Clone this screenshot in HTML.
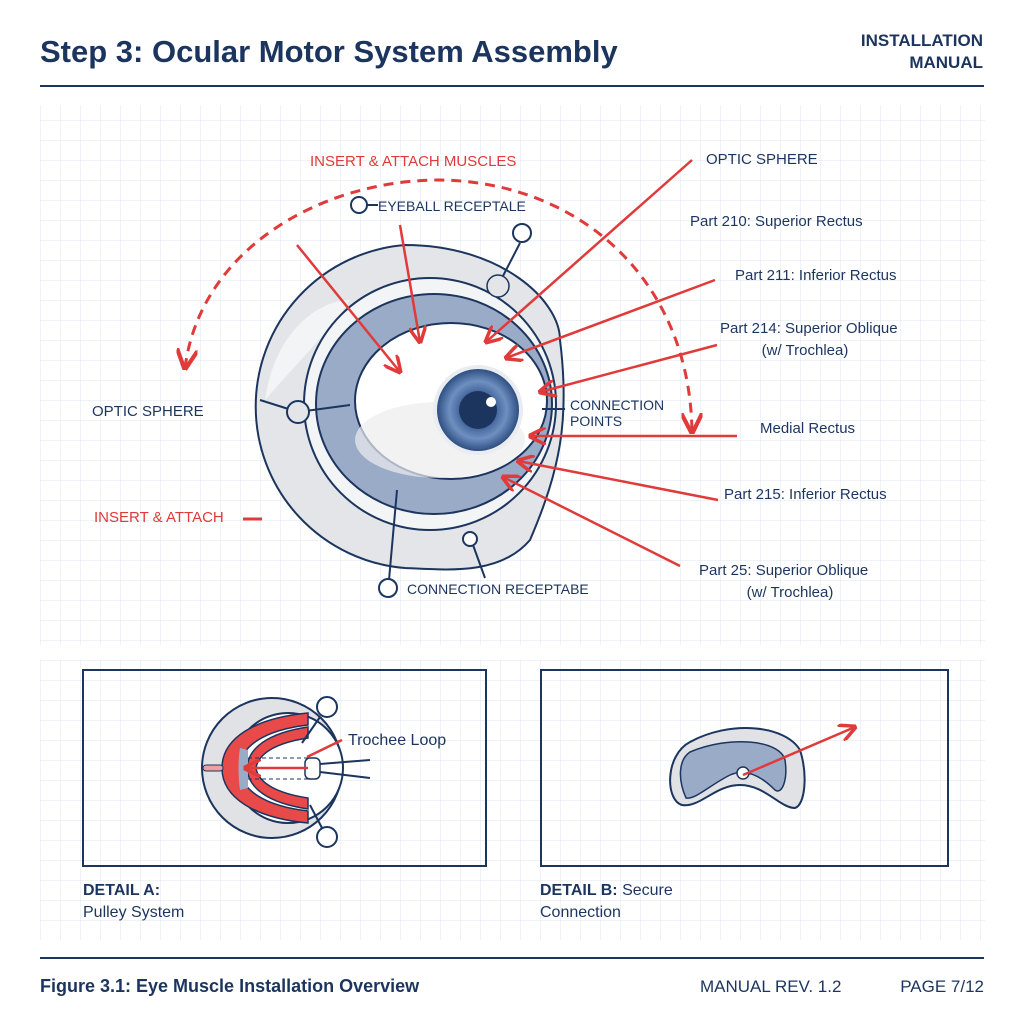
<!DOCTYPE html>
<html><head><meta charset="utf-8"><style>
body{margin:0;background:#fff}
svg{display:block}
text{font-family:"Liberation Sans",Arial,sans-serif}
</style></head><body>
<svg width="1024" height="1024" viewBox="0 0 1024 1024" xmlns="http://www.w3.org/2000/svg">
<defs>
<pattern id="g" width="20" height="20" patternUnits="userSpaceOnUse">
<path d="M20 0H0V20" fill="none" stroke="#dfe4ec" stroke-width="1"/>
</pattern>
<radialGradient id="iris" cx="50%" cy="50%" r="50%">
<stop offset="0.3" stop-color="#2d4f86"/><stop offset="0.7" stop-color="#6e8fc0"/><stop offset="1" stop-color="#2f4f82"/>
</radialGradient>
<marker id="ah" viewBox="0 0 10 10" refX="9" refY="5" markerWidth="7" markerHeight="7" orient="auto-start-reverse">
<path d="M0 0L10 5L0 10" fill="none" stroke="#e03a3a" stroke-width="2"/>
</marker>
</defs>
<rect x="40" y="105" width="945" height="540" fill="url(#g)"/>
<rect x="40" y="660" width="945" height="280" fill="url(#g)"/>
<text x="40" y="62" font-size="31" font-weight="bold" fill="#1c355e">Step 3: Ocular Motor System Assembly</text>
<text x="983" y="46" font-size="17" font-weight="bold" fill="#1c355e" text-anchor="end">INSTALLATION</text>
<text x="983" y="68" font-size="17" font-weight="bold" fill="#1c355e" text-anchor="end">MANUAL</text>
<line x1="40" y1="86" x2="984" y2="86" stroke="#1c355e" stroke-width="2"/>

<path d="M185 368 C200 250 320 180 440 180 C580 182 690 280 692 432" fill="none" stroke="#e03a3a" stroke-width="3" stroke-dasharray="10 7" marker-start="url(#ah)" marker-end="url(#ah)"/>
<text x="310" y="166" font-size="15" fill="#e03a3a">INSERT &amp; ATTACH MUSCLES</text>

<path d="M405 245 C500 245 560 300 560 340 C570 420 560 470 530 540 C500 575 450 570 405 568 A162 162 0 0 1 405 245Z" fill="#e3e5e9" stroke="#1c355e" stroke-width="2"/>
<path d="M265 400 C275 330 320 300 350 300 C330 330 300 360 265 400Z" fill="#f3f4f6"/>
<circle cx="430" cy="404" r="126" fill="#f3f4f6" stroke="#1c355e" stroke-width="2"/>
<ellipse cx="434" cy="404" rx="118" ry="110" fill="#9aabc8" stroke="#1c355e" stroke-width="2"/>
<ellipse cx="451" cy="401" rx="96" ry="78" fill="#fff" stroke="#1c355e" stroke-width="2"/>
<ellipse cx="440" cy="440" rx="85" ry="38" fill="#ececee" opacity="0.7"/>
<circle cx="478" cy="410" r="45" fill="#e9ecf0"/>
<circle cx="478" cy="410" r="41" fill="url(#iris)"/>
<circle cx="478" cy="410" r="19" fill="#1c355e"/>
<circle cx="491" cy="402" r="5" fill="#fff"/>
<line x1="260" y1="400" x2="298" y2="412" stroke="#1c355e" stroke-width="2"/>
<line x1="298" y1="412" x2="350" y2="405" stroke="#1c355e" stroke-width="2"/>
<circle cx="298" cy="412" r="11" fill="#e3e5e9" stroke="#1c355e" stroke-width="2"/>
<circle cx="498" cy="286" r="11" fill="#e3e5e9" stroke="#1c355e" stroke-width="1.5"/>
<line x1="503" y1="276" x2="520" y2="243" stroke="#1c355e" stroke-width="2"/>
<circle cx="522" cy="233" r="9" fill="#fff" stroke="#1c355e" stroke-width="2"/>
<circle cx="470" cy="539" r="7" fill="#fff" stroke="#1c355e" stroke-width="2"/>
<line x1="473" y1="545" x2="485" y2="578" stroke="#1c355e" stroke-width="2"/>
<line x1="397" y1="490" x2="389" y2="580" stroke="#1c355e" stroke-width="2"/>
<circle cx="388" cy="588" r="9" fill="#fff" stroke="#1c355e" stroke-width="2"/>
<line x1="542" y1="409" x2="565" y2="409" stroke="#1c355e" stroke-width="2"/>
<circle cx="359" cy="205" r="8" fill="#fff" stroke="#1c355e" stroke-width="2"/>
<line x1="367" y1="205" x2="378" y2="205" stroke="#1c355e" stroke-width="2"/>

<g stroke="#e03a3a" stroke-width="2.5" fill="none" marker-end="url(#ah)">
<line x1="297" y1="245" x2="400" y2="372"/>
<line x1="400" y1="225" x2="420" y2="342"/>
<line x1="692" y1="160" x2="486" y2="342"/>
<line x1="715" y1="280" x2="506" y2="358"/>
<line x1="717" y1="345" x2="540" y2="392"/>
<line x1="737" y1="436" x2="530" y2="436"/>
<line x1="718" y1="500" x2="518" y2="461"/>
<line x1="680" y1="566" x2="503" y2="477"/>
</g>
<line x1="243" y1="519" x2="262" y2="519" stroke="#e03a3a" stroke-width="3"/>

<g font-size="15" fill="#1c355e">
<text x="378" y="211" font-size="14">EYEBALL RECEPTALE</text>
<text x="706" y="164">OPTIC SPHERE</text>
<text x="690" y="226">Part 210: Superior Rectus</text>
<text x="735" y="280">Part 211: Inferior Rectus</text>
<text x="720" y="333">Part 214: Superior Oblique</text>
<text x="805" y="355" text-anchor="middle">(w/ Trochlea)</text>
<text x="570" y="410" font-size="14">CONNECTION</text>
<text x="570" y="426" font-size="14">POINTS</text>
<text x="760" y="433">Medial Rectus</text>
<text x="724" y="499">Part 215: Inferior Rectus</text>
<text x="699" y="575">Part 25: Superior Oblique</text>
<text x="790" y="597" text-anchor="middle">(w/ Trochlea)</text>
<text x="92" y="416">OPTIC SPHERE</text>
<text x="407" y="594" font-size="14">CONNECTION RECEPTABE</text>
</g>
<text x="94" y="522" font-size="15" fill="#e03a3a">INSERT &amp; ATTACH</text>

<rect x="83" y="670" width="403" height="196" fill="none" stroke="#1c355e" stroke-width="2"/>
<rect x="541" y="670" width="407" height="196" fill="none" stroke="#1c355e" stroke-width="2"/>
<!-- detail A -->
<circle cx="272" cy="768" r="70" fill="#e0e2e6" stroke="#1c355e" stroke-width="2"/>
<circle cx="288" cy="768" r="55" fill="#fff" stroke="#1c355e" stroke-width="2"/>
<path d="M308 713 C255 718 222 738 222 768 C222 798 255 818 308 823 L308 811 C265 806 240 790 240 768 C240 746 265 730 308 725Z" fill="#e84a4a" stroke="#1c355e" stroke-width="1.5"/>
<path d="M308 727 C268 733 248 748 247 768 C248 788 268 803 308 809 L308 798 C275 793 258 782 256 768 C258 754 275 743 308 738Z" fill="#e84a4a" stroke="#1c355e" stroke-width="1.5"/>
<path d="M240 748 C238 760 238 776 240 790 L248 788 L248 750Z" fill="#9aabc8"/>
<rect x="203" y="765" width="20" height="6" rx="3" fill="#f0a0a0" stroke="#1c355e" stroke-width="1"/>
<line x1="248" y1="758" x2="310" y2="758" stroke="#1c355e" stroke-dasharray="4 3"/>
<line x1="248" y1="779" x2="310" y2="779" stroke="#1c355e" stroke-dasharray="4 3"/>
<rect x="305" y="758" width="15" height="21" rx="5" fill="#fff" stroke="#1c355e" stroke-width="1.5"/>
<line x1="308" y1="768" x2="245" y2="768" stroke="#e03a3a" stroke-width="2.5" marker-end="url(#ah)"/>
<line x1="320" y1="764" x2="370" y2="760" stroke="#1c355e" stroke-width="2"/>
<line x1="320" y1="772" x2="370" y2="778" stroke="#1c355e" stroke-width="2"/>
<line x1="307" y1="757" x2="342" y2="740" stroke="#e03a3a" stroke-width="2.5"/>
<line x1="302" y1="743" x2="320" y2="717" stroke="#1c355e" stroke-width="2"/>
<circle cx="327" cy="707" r="10" fill="#fff" stroke="#1c355e" stroke-width="2"/>
<line x1="310" y1="805" x2="322" y2="828" stroke="#1c355e" stroke-width="2"/>
<circle cx="327" cy="837" r="10" fill="#fff" stroke="#1c355e" stroke-width="2"/>
<text x="348" y="745" font-size="16" fill="#1c355e">Trochee Loop</text>
<!-- detail B -->
<path d="M690 742 C730 720 785 725 800 750 C808 775 805 805 795 808 C780 808 765 785 740 785 C715 785 700 808 682 805 C665 800 665 755 690 742Z" fill="#e0e2e6" stroke="#1c355e" stroke-width="2"/>
<path d="M690 752 C730 735 780 740 785 760 C788 780 782 795 775 790 C760 775 745 768 730 775 C710 785 695 800 686 798 C678 780 678 760 690 752Z" fill="#9aabc8" stroke="#1c355e" stroke-width="1.5"/>
<circle cx="743" cy="773" r="6" fill="#fff" stroke="#1c355e" stroke-width="1.5"/>
<line x1="743" y1="775" x2="855" y2="727" stroke="#e03a3a" stroke-width="2.5" marker-end="url(#ah)"/>

<g font-size="16" fill="#1c355e">
<text x="83" y="895" font-weight="bold">DETAIL A:</text>
<text x="83" y="917">Pulley System</text>
<text x="540" y="895"><tspan font-weight="bold">DETAIL B:</tspan> Secure</text>
<text x="540" y="917">Connection</text>
</g>
<line x1="40" y1="958" x2="984" y2="958" stroke="#1c355e" stroke-width="2"/>
<text x="40" y="992" font-size="18" font-weight="bold" fill="#1c355e">Figure 3.1: Eye Muscle Installation Overview</text>
<text x="700" y="992" font-size="17" fill="#1c355e">MANUAL REV. 1.2</text>
<text x="984" y="992" font-size="17" fill="#1c355e" text-anchor="end">PAGE 7/12</text>
</svg>
</body></html>
